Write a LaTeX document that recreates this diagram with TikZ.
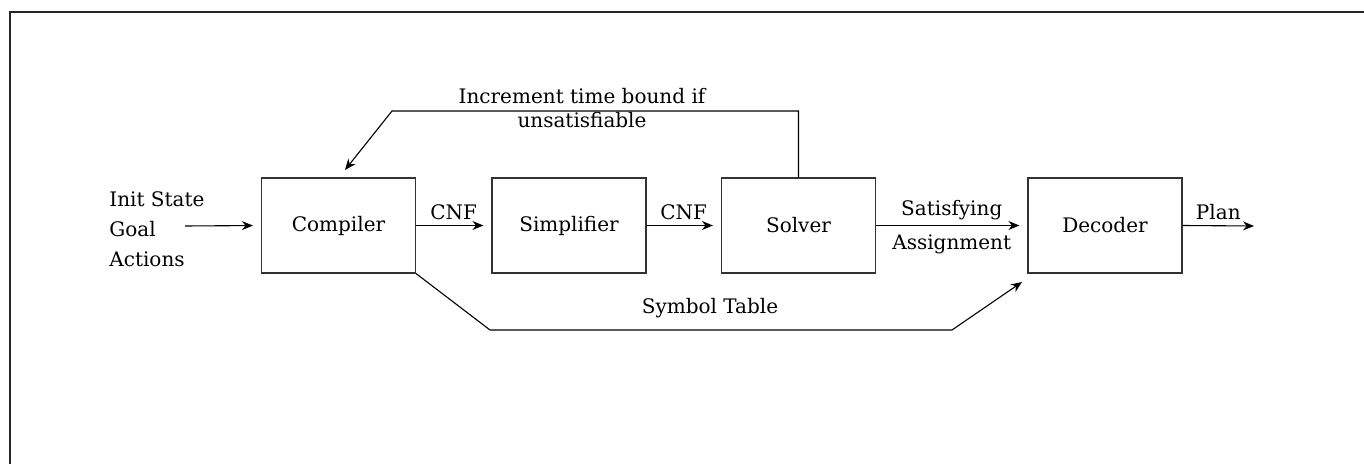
\documentclass[tikz,border=0pt]{standalone}
\usepackage{fontspec}
\setmainfont{DejaVu Serif}
\usetikzlibrary{arrows.meta}

\tikzset{
  box/.style={draw=black!80, line width=0.6pt, minimum width=77pt, minimum height=47.5pt, inner sep=0pt},
  flow/.style={draw, line width=0.55pt, -{Stealth[length=5.5pt,width=4.5pt]}, shorten >=4pt},
  lbl/.style={inner sep=2.5pt}
}

\begin{document}
\begin{tikzpicture}[x=0.5pt,y=0.5pt,font=\fontsize{10}{12}\selectfont]
\useasboundingbox (0,0) rectangle (1364,-464);
% frame
\draw [black!85, line width=1pt] (10,-464) -- (10,-12) -- (1364,-12);
% the four stages
\node [box] (comp) at (338.5,-225.5) {Compiler};
\node [box] (simp) at (569,-225.5) {Simplifier};
\node [box] (solv) at (798.5,-225.5) {Solver};
\node [box] (deco) at (1105,-225.5) {Decoder};
% inputs and output
\node [lbl, anchor=west, align=left, font=\fontsize{10}{15}\selectfont] (inp) at (104,-229) {Init State\\Goal\\Actions};
\coordinate (inpstart) at (185,-226);
\coordinate (planend) at (1254,-226);
\draw [flow] (inpstart) -- (comp.west);
\draw [flow] (comp.east) -- node [lbl, above] {CNF} (simp.west);
\draw [flow] (simp.east) -- node [lbl, above] {CNF} (solv.west);
\draw [flow] (solv.east) -- node [lbl, above] {Satisfying} node [lbl, below, inner sep=4.5pt] {Assignment} (deco.west);
\draw [flow, shorten >=0pt] (deco.east) -- node [lbl, above] {Plan} (planend);
% feedback loop
\coordinate (fbcorner) at (392,-111);
\coordinate (fbend) at (345,-170);
\draw [flow, shorten >=0pt] (solv.north) |- (fbcorner) -- (fbend);
\node [lbl, align=center] (fblbl) at (582,-108) {Increment time bound if\\unsatisfiable};
% symbol table
\coordinate (st1) at (490,-330);
\coordinate (st2) at (952,-330);
\coordinate (stend) at (1022,-282);
\draw [flow, shorten >=0pt] (comp.south east) -- (st1) -- (st2) -- (stend);
\node [lbl] (stlbl) at (710,-308) {Symbol Table};
\end{tikzpicture}
\end{document}
